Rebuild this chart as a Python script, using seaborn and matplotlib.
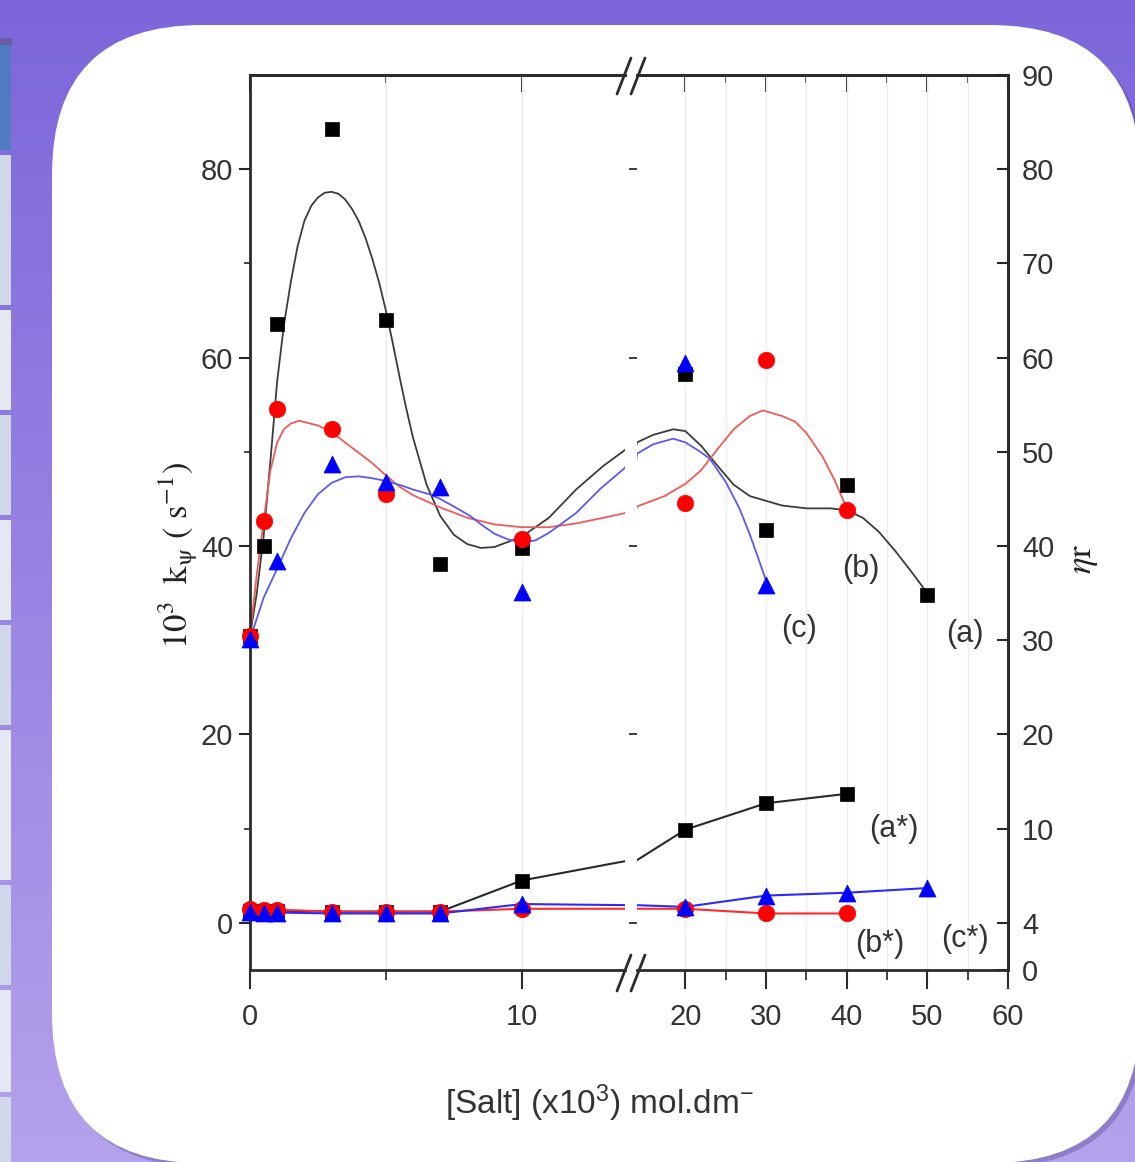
import numpy as np
import matplotlib
matplotlib.use("Agg")
import matplotlib.pyplot as plt
import matplotlib.colors as mcolors
import seaborn as sns
from matplotlib import font_manager
from matplotlib.patches import FancyBboxPatch, Rectangle
from matplotlib.lines import Line2D

# ---- data: k_psi points (upper series) ----
a_x = [0, 0.5, 1, 3, 5, 7, 10, 20, 30, 40, 50]
a_y = [30.5, 40.0, 63.6, 84.3, 64.0, 38.1, 39.8, 58.3, 41.7, 46.5, 34.8]
b_x = [0, 0.5, 1, 3, 5, 10, 20, 30, 40]
b_y = [30.5, 42.7, 54.5, 52.4, 45.5, 40.8, 44.6, 59.7, 43.8]
c_x = [0, 1, 3, 5, 7, 10, 20, 30]
c_y = [30.1, 38.4, 48.7, 46.8, 46.3, 35.1, 59.4, 35.9]

# ---- data: eta_r points (lower series) ----
low_x = [0, 0.5, 1, 3, 5, 7, 10, 20, 30, 40]
as_y = [1.3, 1.3, 1.3, 1.2, 1.2, 1.2, 4.5, 9.9, 12.7, 13.7]
bs_y = [1.5, 1.4, 1.4, 1.2, 1.2, 1.2, 1.5, 1.5, 1.0, 1.0]
cs_x = [0, 0.5, 1, 3, 5, 7, 10, 20, 30, 40, 50]
cs_y = [1.2, 1.1, 1.1, 1.0, 1.0, 1.0, 2.0, 1.7, 2.9, 3.2, 3.7]

# ---- fitted curves ----
curve_a_x = [0, 0.25, 0.5, 0.75, 1.0, 1.25, 1.5, 1.75, 2.0, 2.25, 2.5, 2.75, 3.0, 3.25, 3.5,
             3.75, 4.0, 4.25, 4.5, 4.75, 5.0, 5.25, 5.5, 5.75, 6.0, 6.5, 7.0, 7.5, 8.0, 8.5,
             9.0, 10.0, 11.0, 12.0, 13.0, 13.8, 14.0, 16.0, 18.5, 20.0, 22.0, 24.0, 26.0,
             28.0, 30.0, 32.0, 35.0, 38.0, 40.0, 42.0, 44.0, 46.0, 48.0, 50.0]
curve_a_y = [30.5, 35.0, 41.0, 49.0, 57.5, 63.5, 68.0, 71.8, 74.5, 76.1, 77.0, 77.5, 77.6,
             77.4, 76.8, 75.8, 74.5, 72.7, 70.5, 68.0, 65.0, 61.6, 58.0, 54.6, 51.5, 46.5,
             43.2, 41.2, 40.2, 39.8, 39.9, 41.0, 43.0, 46.0, 48.5, 50.2, 51.0, 51.8, 52.4,
             52.2, 50.6, 48.5, 46.5, 45.3, 44.8, 44.3, 44.0, 44.0, 43.8, 43.0, 41.5, 39.5,
             37.3, 35.0]
curve_b_x = [0, 0.25, 0.5, 0.75, 1.0, 1.25, 1.5, 1.8, 2.5, 3.0, 3.5, 4.0, 4.5, 5.0, 5.5, 6.0,
             7.0, 8.0, 9.0, 10.0, 11.0, 12.0, 13.0, 13.8, 14.0, 17.4, 20.0, 21.9, 24.0, 26.0,
             28.0, 29.6, 32.0, 33.6, 35.0, 37.0, 38.5, 40.0]
curve_b_y = [30.5, 37.0, 42.6, 48.0, 51.0, 52.4, 53.0, 53.3, 52.8, 52.1, 51.0, 49.9, 48.8,
             47.5, 46.3, 45.4, 44.1, 43.0, 42.3, 42.0, 42.0, 42.4, 43.0, 43.5, 44.2, 45.3,
             46.6, 48.0, 50.3, 52.4, 53.8, 54.4, 53.8, 53.2, 52.0, 49.5, 47.0, 44.0]
curve_c_x = [0, 0.5, 1.0, 1.5, 2.0, 2.5, 3.0, 3.5, 4.0, 4.5, 5.0, 5.5, 6.0, 6.6, 7.0, 7.5, 8.1,
             8.5, 9.0, 9.5, 10.0, 10.5, 11.0, 12.0, 12.9, 13.8, 14.0, 16.0, 18.5, 20.0, 21.5,
             23.0, 25.0, 26.7, 28.0, 29.0, 30.0]
curve_c_y = [30.1, 34.5, 37.6, 40.8, 43.5, 45.5, 46.7, 47.3, 47.4, 47.2, 46.9, 46.5, 46.0, 45.5,
             45.0, 44.2, 43.2, 42.3, 41.3, 40.7, 40.4, 40.6, 41.4, 43.5, 46.1, 48.3, 49.8, 50.8,
             51.4, 51.0, 50.2, 49.3, 46.8, 44.0, 41.2, 38.8, 36.3]

# right-hand (eta_r) axis labels at left-axis positions
eta_pos = [-5, 0, 10, 20, 30, 40, 50, 60, 70, 80, 90]
eta_lab = ["0", "4", "10", "20", "30", "40", "50", "60", "70", "80", "90"]

W, H = 1135, 1162

sns.set_theme(style="ticks")
names = {f.name for f in font_manager.fontManager.ttflist}
narrow = "Liberation Sans Narrow" if "Liberation Sans Narrow" in names else "Liberation Sans"
plt.rcParams["font.family"] = [narrow, "DejaVu Sans"]
plt.rcParams["mathtext.fontset"] = "custom"
plt.rcParams["mathtext.rm"] = narrow
plt.rcParams["mathtext.it"] = narrow + ":italic"
plt.rcParams["mathtext.bf"] = narrow + ":bold"

fig = plt.figure(figsize=(W / 100, H / 100), dpi=100)

# ---- slide background ----
bg = fig.add_axes([0, 0, 1, 1], zorder=-5)
top_c = np.array(mcolors.to_rgb("#7c66da"))
bot_c = np.array(mcolors.to_rgb("#b4a2ec"))
t = np.linspace(0, 1, 256)[:, None, None]
bg.imshow(top_c + (bot_c - top_c) * t, extent=(0, W, H, 0), aspect="auto")
bg.add_patch(FancyBboxPatch((56, 29), 1088, 1138, boxstyle="round,pad=0,rounding_size=150",
                            fc="#4b3c8c", ec="none", alpha=0.35))
bg.add_patch(FancyBboxPatch((52, 25), 1088, 1138, boxstyle="round,pad=0,rounding_size=150",
                            fc="white", ec="none"))
cells = [(45, 150), (155, 305), (310, 410), (415, 515), (520, 620), (625, 725),
         (730, 880), (885, 985), (990, 1092), (1097, 1170)]
for i, (y0, y1) in enumerate(cells):
    col = "#4f7cc0" if i == 0 else ("#cfd7e8" if i % 2 else "#e3e8f2")
    bg.add_patch(Rectangle((0, y0), 11, y1 - y0, fc=col, ec="none"))
bg.add_patch(Rectangle((0, 38), 12, 7, fc="#6a5aa8", ec="none"))
bg.set_xlim(0, W)
bg.set_ylim(H, 0)
bg.axis("off")

# ---- broken-axis plot ----
ax1 = fig.add_axes([250 / W, 1 - 970 / H, (625 - 250) / W, 895 / H])
ax2 = fig.add_axes([637 / W, 1 - 970 / H, (1008 - 637) / W, 895 / H])


def keep(xs, ys, lo, hi):
    pts = [(x, y) for x, y in zip(xs, ys) if lo <= x <= hi]
    return [p[0] for p in pts], [p[1] for p in pts]


def draw(ax, lo, hi):
    ax.set_facecolor("none")
    for cx, cy, col in [(curve_a_x, curve_a_y, "#3c3c3c"),
                        (curve_b_x, curve_b_y, "#f05a5a"),
                        (curve_c_x, curve_c_y, "#5a5af0")]:
        sns.lineplot(x=cx, y=cy, ax=ax, color=col, lw=1.3, sort=False, estimator=None)
    sns.lineplot(x=low_x, y=as_y, ax=ax, color="#2a2a2a", lw=1.5, sort=False, estimator=None)
    sns.lineplot(x=low_x, y=bs_y, ax=ax, color="#ff2a2a", lw=1.5, sort=False, estimator=None)
    sns.lineplot(x=cs_x, y=cs_y, ax=ax, color="#2a2aff", lw=1.5, sort=False, estimator=None)
    groups = [(a_x, a_y, "s", 100, "black"), (low_x, as_y, "s", 100, "black"),
              (b_x, b_y, "o", 140, "#ff0000"), (low_x, bs_y, "o", 140, "#ff0000"),
              (c_x, c_y, "^", 150, "#0000ff"), (cs_x, cs_y, "^", 150, "#0000ff")]
    for k, (xs, ys, m, s, col) in enumerate(groups):
        px, py = keep(xs, ys, lo, hi)
        sns.scatterplot(x=px, y=py, ax=ax, marker=m, s=s, color=col, edgecolor=col,
                        linewidth=0.5, zorder=5 + k, clip_on=False)
    ax.set_ylim(-5, 90)
    ax.grid(axis="x", which="both", color="#ececec", lw=1)
    for sp in ax.spines.values():
        sp.set_color("#2b2b2b")
        sp.set_linewidth(2)


draw(ax1, 0, 13.8)
draw(ax2, 14, 60)

ax1.set_xlim(0, 13.8)
ax2.set_xlim(14, 60)
ax1.spines["right"].set_visible(False)
ax2.spines["left"].set_visible(False)

ax1.set_xticks([0, 10])
ax1.set_xticks([5], minor=True)
ax2.set_xticks([20, 30, 40, 50, 60])
ax2.set_xticks([25, 35, 45, 55], minor=True)
for ax in (ax1, ax2):
    ax.tick_params(axis="x", which="major", direction="out", length=14, width=1.5,
                   labelsize=21, pad=10, colors="#2b2b2b", labelcolor="#333333")
    ax.tick_params(axis="x", which="minor", direction="out", length=7, width=1.2)
    sec = ax.secondary_xaxis("top")
    sec.set_xticks(ax.get_xticks())
    sec.set_xticks(ax.get_xticks(minor=True), minor=True)
    sec.tick_params(which="major", direction="in", length=12, width=1.5, labeltop=False)
    sec.tick_params(which="minor", direction="in", length=6, width=1.2)
    sec.spines["top"].set_color("#2b2b2b")
    sec.spines["top"].set_linewidth(2)

ax1.set_yticks([0, 20, 40, 60, 80])
ax1.set_yticks([10, 30, 50, 70], minor=True)
ax1.tick_params(axis="y", which="major", direction="out", length=8, width=1.5,
                labelsize=21, pad=4, labelcolor="#333333")
ax1.tick_params(axis="y", which="minor", direction="out", length=4, width=1.2)
ax2.tick_params(axis="y", left=False, labelleft=False)

ax3 = ax2.twinx()
ax3.set_ylim(-5, 90)
ax3.set_yticks(eta_pos, labels=eta_lab)
ax3.tick_params(axis="y", direction="in", length=8, width=1.5, labelsize=21, pad=10,
                labelcolor="#333333")
for side in ("left", "top", "bottom"):
    ax3.spines[side].set_visible(False)
ax3.spines["right"].set_color("#2b2b2b")
ax3.spines["right"].set_linewidth(2)
ax3.grid(False)

# curve labels
for txt, x, y in [("(a)", 54.6, 30.7), ("(b)", 41.8, 37.6), ("(c)", 34.1, 31.2),
                  ("(a*)", 45.9, 10.0), ("(b*)", 44.1, -2.2), ("(c*)", 54.6, -1.7)]:
    ax2.text(x, y, txt, ha="center", va="center", fontsize=22, color="#333333")

# axis titles
fig.text(600 / W, 1 - 1103 / H, "[Salt] (x10$^{3}$) mol.dm$^{-}$", ha="center", va="center",
         fontsize=24, color="#333333")
fig.text(178 / W, 1 - 556 / H, r"$\mathrm{10^{3}\ \ k_{\psi}\ (\ s^{-1})}$", rotation=90,
         ha="center", va="center", fontsize=25, color="#222222", math_fontfamily="stix")
fig.text(1084 / W, 1 - 559 / H, r"$\eta\mathrm{r}$", rotation=90, ha="center", va="center",
         fontsize=25, color="#222222", math_fontfamily="stix")

# break marks
ov = fig.add_axes([0, 0, 1, 1], zorder=20)
ov.set_xlim(0, W)
ov.set_ylim(H, 0)
ov.axis("off")
ov.patch.set_alpha(0)
for yc in (76, 973):
    for x0 in (617, 631):
        ov.add_line(Line2D([x0, x0 + 14], [yc + 18, yc - 18], color="#2b2b2b", lw=2))

fig.savefig("out.png", dpi=100)
